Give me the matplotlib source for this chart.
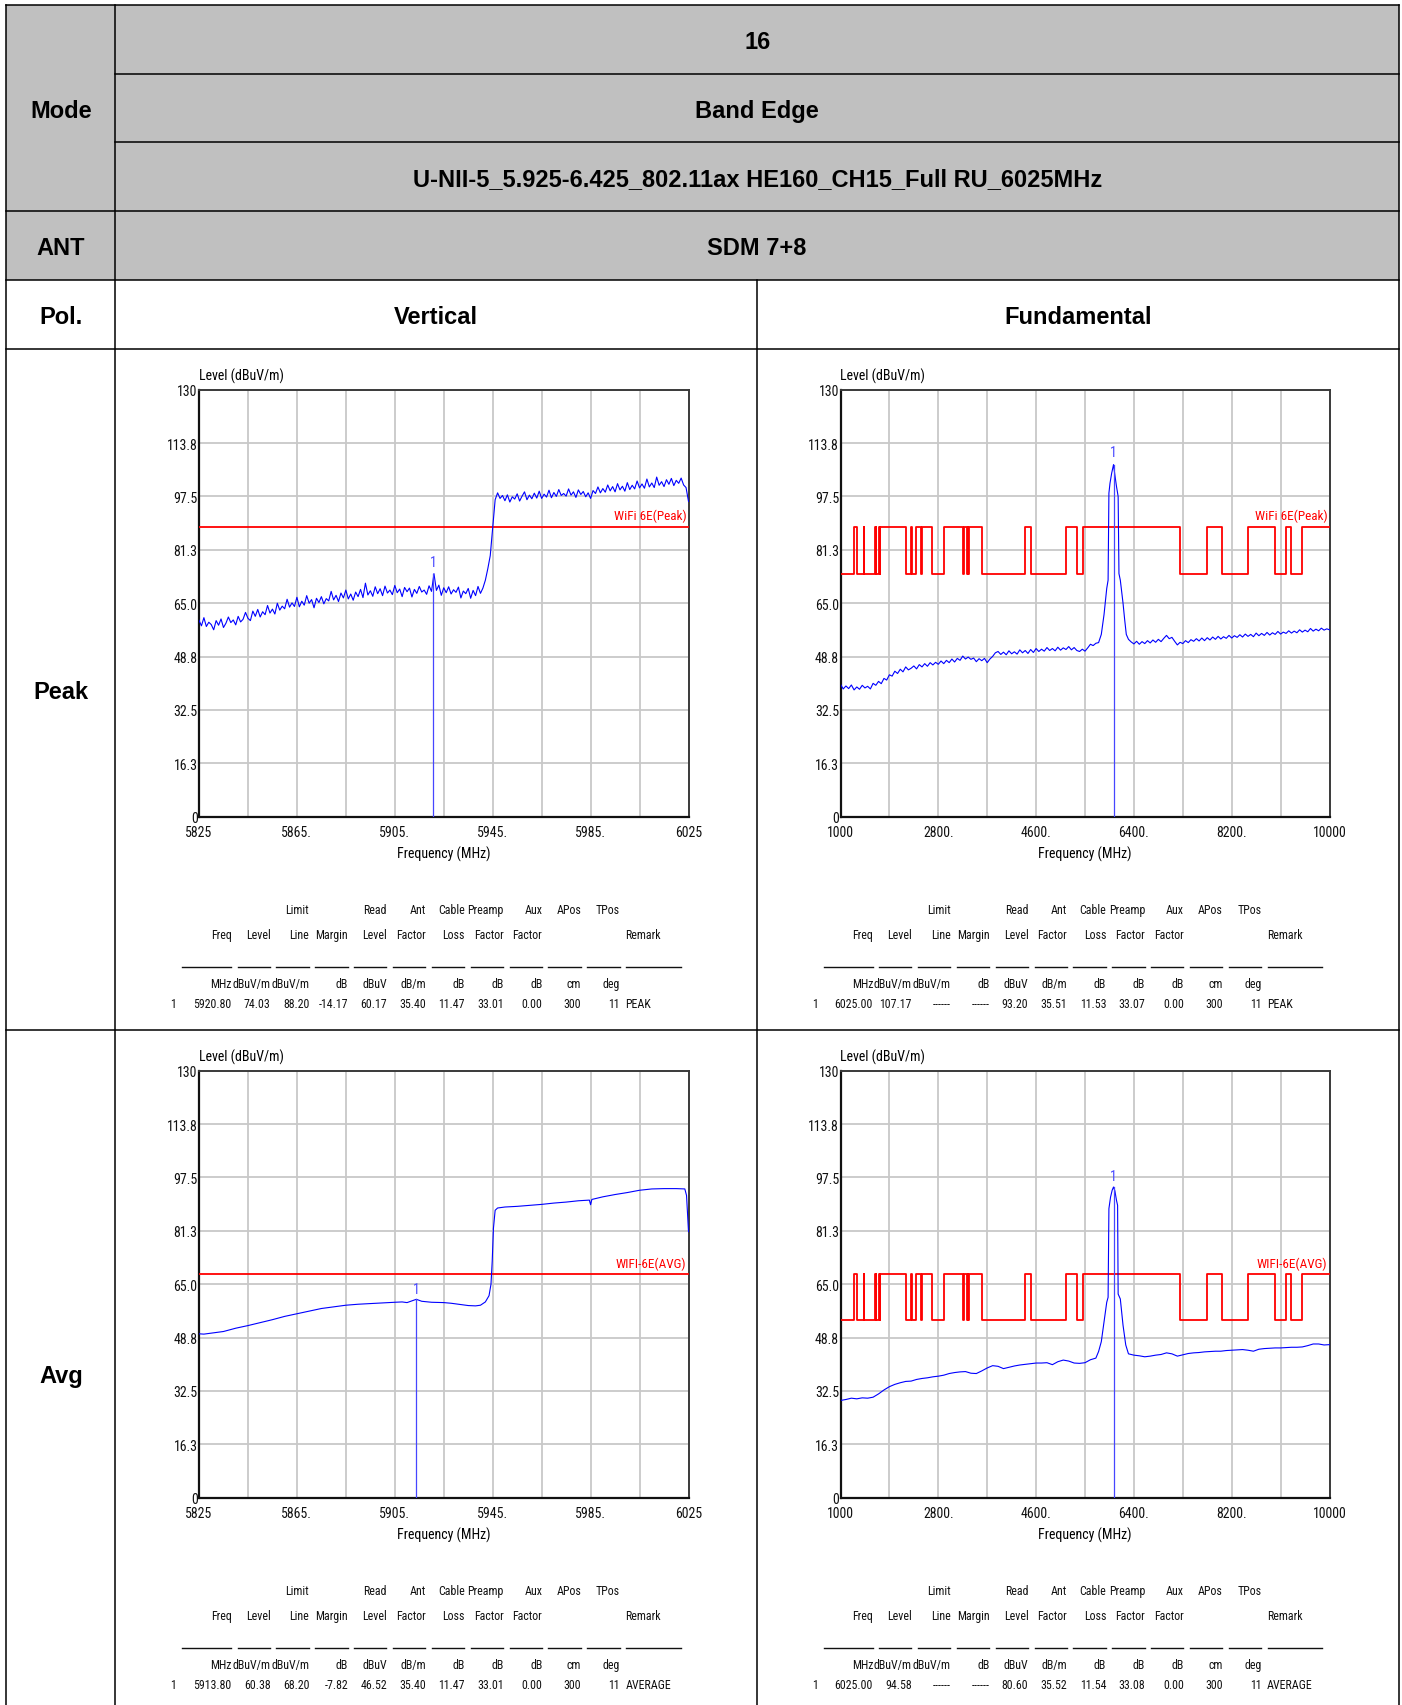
import matplotlib
matplotlib.use("Agg")
import matplotlib.pyplot as plt
from matplotlib import font_manager as fm
from matplotlib.patches import Rectangle
import matplotlib.transforms as mtrans

# ---------------- data ----------------
Y_TICKS = [0, 16.25, 32.5, 48.75, 65, 81.25, 97.5, 113.75, 130]
Y_LABELS = ["0", "16.3", "32.5", "48.8", "65.0", "81.3", "97.5", "113.8", "130"]

BE_GRID = [5825, 5845, 5865, 5885, 5905, 5925, 5945, 5965, 5985, 6005, 6025]
BE_LABELS = ["5825", "", "5865.", "", "5905.", "", "5945.", "", "5985.", "", "6025"]
FU_GRID = [1000, 1900, 2800, 3700, 4600, 5500, 6400, 7300, 8200, 9100, 10000]
FU_LABELS = ["1000", "", "2800.", "", "4600.", "", "6400.", "", "8200.", "", "10000"]

# Band edge, peak (vertical), 1 MHz steps 5825..6025
be_pk_freq = list(range(5825, 6026))
be_pk_level = [
    59.8, 58.1, 60.6, 57.9, 59.2, 58.5, 56.9, 59.7, 58.3, 60.2,
    57.6, 58.9, 60.8, 59.1, 59.9, 58.4, 61.0, 59.3, 60.1, 62.2,
    60.4, 59.7, 62.6, 61.0, 63.1, 60.8, 62.4, 61.5, 64.3, 62.0,
    63.2, 61.7, 65.0, 62.9, 64.1, 63.3, 66.2, 63.8, 65.1, 64.0,
    66.8, 63.9, 65.6, 64.4, 67.3, 65.0, 66.1, 63.6, 66.5, 65.2,
    67.0, 64.8, 66.4, 65.7, 68.6, 66.0, 67.4, 65.5, 68.1, 66.6,
    69.0, 66.3, 67.8, 65.9, 68.4, 67.0, 69.2, 66.7, 71.1, 67.5,
    68.8, 67.1, 70.0, 67.9, 69.4, 67.3, 70.2, 68.1, 69.0, 67.6,
    70.4, 68.2, 69.3, 67.0, 69.8, 68.5, 69.6, 66.9, 69.2, 68.0,
    70.1, 68.4, 69.0, 67.7, 70.3, 68.6, 74.0, 68.9, 70.5, 67.4,
    69.7, 68.2, 70.0, 67.8, 69.1, 68.3, 69.9, 66.6, 68.7, 67.9,
    69.5, 66.5, 68.9, 67.3, 70.1, 68.0, 69.6, 72.0, 75.5, 79.5,
    88.0, 96.5, 98.6, 96.9, 97.8, 96.2, 98.0, 95.8, 97.4, 96.7,
    98.3, 96.1, 97.6, 98.9, 96.5, 97.9, 96.8, 98.5, 97.0, 99.1,
    96.9, 98.2, 97.3, 99.4, 97.1, 98.7, 97.5, 99.6, 97.8, 98.4,
    97.6, 99.8, 97.9, 98.9, 97.2, 99.5, 98.1, 99.0, 97.4, 98.6,
    96.9, 99.3, 98.4, 100.4, 98.6, 99.9, 98.8, 101.0, 99.2, 100.5,
    98.9, 101.4, 99.5, 100.6, 99.1, 101.7, 99.6, 100.9, 99.8, 102.2,
    100.1, 101.3, 100.0, 102.8, 100.4, 101.6, 100.2, 103.4, 100.9, 102.0,
    100.5, 102.6, 101.2, 103.0, 100.8, 102.4, 101.5, 103.1, 101.0, 100.2,
    96.0]

# Band edge, average (vertical)
be_av_freq = [5825, 5827, 5830, 5835, 5840, 5845, 5850, 5855, 5860, 5865,
              5870, 5875, 5880, 5885, 5890, 5895, 5900, 5905, 5908, 5910,
              5913.8, 5916, 5920, 5925, 5928, 5930, 5932, 5935, 5938, 5940,
              5942, 5943.5, 5944.3, 5944.8, 5945.3, 5946, 5947, 5950, 5955, 5960,
              5965, 5970, 5975, 5980, 5984.5, 5985, 5985.5, 5990, 5995, 6000,
              6005, 6010, 6015, 6020, 6023.5, 6024.2, 6025]
be_av_level = [49.9, 49.8, 50.1, 50.6, 51.6, 52.4, 53.3, 54.2, 55.2, 56.0,
               56.8, 57.6, 58.1, 58.6, 58.9, 59.1, 59.3, 59.5, 59.6, 59.4,
               60.4, 59.8, 59.5, 59.4, 59.2, 59.0, 58.8, 58.5, 58.4, 58.6,
               59.6, 61.5, 65.0, 72.0, 82.0, 87.5, 88.2, 88.5, 88.7, 89.0,
               89.3, 89.7, 90.0, 90.4, 90.6, 89.2, 90.8, 91.6, 92.3, 92.9,
               93.6, 94.0, 94.1, 94.1, 94.0, 92.0, 81.0]

# Fundamental, peak
fu_pk_freq = ([1000 + 50 * i for i in range(95)] +
              [5750, 5800, 5850, 5900, 5925, 5940, 5960, 5990, 6025, 6050,
               6080, 6110, 6125, 6150, 6200, 6230, 6260] +
              [6300 + 50 * i for i in range(75)])
fu_pk_level = [
    40.3, 38.9, 39.8, 39.0, 40.1, 38.6, 39.5, 38.8, 40.0, 39.2,
    39.7, 38.9, 40.6, 40.0, 41.2, 40.5, 42.1, 41.6, 43.2, 42.8,
    44.3, 43.6, 44.9, 44.1, 45.6, 44.7, 45.2, 45.9, 45.0, 46.3,
    45.6, 46.6, 45.8, 46.9, 46.2, 47.0, 46.4, 47.4, 46.6, 47.6,
    46.9, 48.0, 47.1, 48.2, 47.6, 48.9, 48.0, 48.6, 47.9, 48.3,
    47.2, 48.1, 47.5, 48.2, 46.9, 48.0, 48.8, 49.9, 50.3, 49.4,
    50.1, 49.3, 50.5, 49.6, 50.2, 49.5, 50.8, 49.9, 50.6, 49.7,
    50.9, 50.0, 51.2, 50.3, 51.0, 50.4, 51.5, 50.6, 51.2, 50.5,
    51.6, 50.7, 51.4, 50.9, 51.8, 50.8, 51.5, 50.6, 50.3, 51.0,
    50.4, 51.4, 52.5, 52.1, 52.8,
    53.0, 55.5, 61.5, 69.5, 72.0, 98.5, 101.5, 104.5, 107.2, 104.0,
    100.5, 97.5, 74.0, 72.0, 65.0, 60.0, 55.5,
    54.0, 53.2, 52.6, 53.4, 52.5, 53.3, 52.7, 53.6, 52.9, 53.8,
    53.1, 54.0, 53.3, 54.3, 55.2, 54.2, 54.6, 53.4, 52.3, 53.1,
    52.7, 53.6, 53.0, 53.9, 53.4, 54.2, 53.5, 54.4, 53.6, 54.5,
    53.8, 54.7, 54.0, 54.9, 54.1, 54.8, 54.3, 55.2, 54.4, 55.1,
    54.6, 55.4, 54.7, 55.6, 54.9, 55.5, 54.8, 55.9, 55.1, 55.8,
    55.2, 56.1, 55.3, 56.0, 55.5, 56.4, 55.6, 56.2, 55.8, 56.6,
    55.9, 56.5, 56.0, 56.9, 56.2, 56.8, 56.3, 57.3, 56.5, 57.1,
    56.6, 57.4, 56.8, 57.2, 56.9]

# Fundamental, average
fu_av_freq = ([1000 + 100 * i for i in range(48)] +
              [5750, 5800, 5850, 5900, 5925, 5940, 5970, 6000, 6025, 6050,
               6080, 6100, 6110, 6150, 6200, 6250] +
              [6300 + 100 * i for i in range(38)])
fu_av_level = [
    29.6, 29.9, 30.3, 30.1, 30.4, 30.3, 30.6, 31.6, 32.8, 33.8,
    34.5, 35.0, 35.4, 35.5, 36.0, 36.3, 36.5, 36.8, 37.0, 37.3,
    37.8, 38.1, 38.3, 38.4, 37.9, 37.8, 38.6, 39.5, 40.2, 40.0,
    39.3, 39.7, 40.1, 40.4, 40.6, 40.8, 41.0, 41.0, 41.1, 40.5,
    41.4, 41.9, 41.6, 41.0, 40.9, 41.1, 42.0, 42.5,
    44.5, 47.5, 53.5, 59.5, 61.0, 88.0, 91.5, 93.6, 94.6, 93.4,
    90.5, 89.0, 62.0, 60.5, 52.5, 46.5,
    43.8, 43.4, 43.2, 42.9, 43.1, 43.4, 43.6, 44.1, 43.8, 43.1,
    43.5, 43.9, 44.1, 44.2, 44.4, 44.5, 44.6, 44.6, 44.8, 44.9,
    45.0, 45.1, 44.9, 44.6, 45.2, 45.4, 45.5, 45.6, 45.6, 45.7,
    45.8, 45.8, 45.9, 46.3, 46.8, 46.8, 46.5, 46.6]

# Restricted bands (limit drops to the lower value inside them)
RESTRICTED = [(960, 1240), (1300, 1427), (1435, 1626.5), (1645.5, 1646.5),
              (1660, 1710), (1718.8, 1722.2), (2200, 2300), (2310, 2390),
              (2483.5, 2500), (2690, 2900), (3260, 3267), (3332, 3339),
              (3345.8, 3358), (3600, 4400), (4500, 5150), (5350, 5460),
              (7250, 7750), (8025, 8500), (9000, 9200), (9300, 9500)]
PK_LIMIT_HI, PK_LIMIT_LO = 88.2, 74.0
AV_LIMIT_HI, AV_LIMIT_LO = 68.2, 54.0

MARKERS = {
    "tl": (5920.80, 74.03),
    "tr": (6025.00, 107.17),
    "bl": (5913.80, 60.38),
    "br": (6025.00, 94.58),
}

TABLE_HDR1 = [("Limit", 24), ("Read", 38), ("Ant", 45), ("Cable", 52),
              ("Preamp", 59), ("Aux", 66), ("APos", 73), ("TPos", 80)]
TABLE_HDR2 = [("Freq", 10), ("Level", 17), ("Line", 24), ("Margin", 31),
              ("Level", 38), ("Factor", 45), ("Loss", 52), ("Factor", 59),
              ("Factor", 66)]
TABLE_UNITS = ["MHz", "dBuV/m", "dBuV/m", "dB", "dBuV", "dB/m", "dB", "dB",
               "dB", "cm", "deg"]
ROW_TL = ["5920.80", "74.03", "88.20", "-14.17", "60.17", "35.40", "11.47",
          "33.01", "0.00", "300", "11", "PEAK"]
ROW_TR = ["6025.00", "107.17", "------", "------", "93.20", "35.51", "11.53",
          "33.07", "0.00", "300", "11", "PEAK"]
ROW_BL = ["5913.80", "60.38", "68.20", "-7.82", "46.52", "35.40", "11.47",
          "33.01", "0.00", "300", "11", "AVERAGE"]
ROW_BR = ["6025.00", "94.58", "------", "------", "80.60", "35.52", "11.54",
          "33.08", "0.00", "300", "11", "AVERAGE"]

# ---------------- fonts ----------------
available = {f.name for f in fm.fontManager.ttflist}
NARROW = None
for cand in ["Liberation Sans Narrow", "Arial Narrow", "Roboto Condensed",
             "Open Sans Condensed", "DejaVu Sans Condensed"]:
    if cand in available:
        NARROW = cand
        break
if NARROW is None:
    NARROW = "DejaVu Sans"
NARROW_SCALE = 1.0 if NARROW != "DejaVu Sans" else 0.8
HEAD = "Liberation Sans" if "Liberation Sans" in available else "DejaVu Sans"

# ---------------- figure ----------------
W, H = 1402, 1706
fig = plt.figure(figsize=(W / 100, H / 100), dpi=100)
bg = fig.add_axes([0, 0, 1, 1])
bg.set_xlim(0, W)
bg.set_ylim(H, 0)
bg.axis("off")

GRAY = "#C0C0C0"
L, C1, MID, R = 6.3, 115.3, 757.3, 1399.0
R1, R2, R3, R4, R5, R6, R7 = 6.3, 75.3, 143.3, 212.0, 281.0, 350.0, 1031.0
LW = 1.1

bg.add_patch(Rectangle((L, R1), R - L, R5 - R1, facecolor=GRAY,
                       edgecolor="none", zorder=0))
for y, xa, xb in [(R1, L, R), (R2, C1, R), (R3, C1, R), (R4, L, R),
                  (R5, L, R), (R6, L, R), (R7, L, R)]:
    bg.plot([xa, xb], [y, y], color="black", lw=LW, solid_capstyle="projecting")
for x, ya in [(L, R1), (R, R1), (C1, R1), (MID, R5)]:
    bg.plot([x, x], [ya, H + 5], color="black", lw=LW)

hk = dict(family=HEAD, fontweight="bold", fontsize=17, ha="center", va="center")
cx_all = (C1 + R) / 2
DY = 2.0
bg.text((L + C1) / 2, (R1 + R4) / 2 + DY, "Mode", **hk)
bg.text(cx_all, (R1 + R2) / 2 + DY, "16", **hk)
bg.text(cx_all, (R2 + R3) / 2 + DY, "Band Edge", **hk)
bg.text(cx_all, (R3 + R4) / 2 + DY,
        "U-NII-5_5.925-6.425_802.11ax HE160_CH15_Full RU_6025MHz", **hk)
bg.text((L + C1) / 2, (R4 + R5) / 2 + DY, "ANT", **hk)
bg.text(cx_all, (R4 + R5) / 2 + DY, "SDM 7+8", **hk)
bg.text((L + C1) / 2, (R5 + R6) / 2 + DY, "Pol.", **hk)
bg.text((C1 + MID) / 2, (R5 + R6) / 2 + DY, "Vertical", **hk)
bg.text((MID + R) / 2, (R5 + R6) / 2 + DY, "Fundamental", **hk)
bg.text((L + C1) / 2, (R6 + R7) / 2 + DY, "Peak", **hk)
bg.text((L + C1) / 2, (R7 + 1717) / 2 + DY, "Avg", **hk)


def limit_steps(hi, lo, f0, f1):
    xs, ys = [f0], []
    cur = lo if any(a <= f0 < b for a, b in RESTRICTED) else hi
    ys.append(cur)
    for a, b in RESTRICTED:
        for edge, val in ((a, lo), (b, hi)):
            if f0 < edge < f1:
                xs += [edge, edge]
                ys += [cur, val]
                cur = val
    xs.append(f1)
    ys.append(cur)
    return xs, ys


def chart(x0, y0, x1, y1, grid, labels, freq, level, lim_x, lim_y,
          lim_label, lim_label_y, mk, mk_label_y, row):
    ax = fig.add_axes([x0 / W, 1 - y1 / H, (x1 - x0) / W, (y1 - y0) / H])
    ax.set_xlim(grid[0], grid[-1])
    ax.set_ylim(0, 130)
    ax.set_xticks(grid)
    ax.set_xticklabels(labels)
    ax.set_yticks(Y_TICKS)
    ax.set_yticklabels(Y_LABELS)
    ax.grid(True, color="#C8C8C8", lw=1.3)
    ax.set_axisbelow(True)
    ax.tick_params(length=0, labelsize=10 * NARROW_SCALE, labelcolor="#111111")
    ax.tick_params(axis="y", pad=1)
    ax.tick_params(axis="x", pad=6)
    for t in ax.get_xticklabels() + ax.get_yticklabels():
        t.set_fontfamily(NARROW)
    for s in ("left", "bottom"):
        ax.spines[s].set_linewidth(1.6)
        ax.spines[s].set_color("#111111")
    for s in ("top", "right"):
        ax.spines[s].set_linewidth(1.4)
        ax.spines[s].set_color("#3a3a3a")
    ax.plot(lim_x, lim_y, color="#FF0000", lw=1.3, zorder=3)
    ax.plot(freq, level, color="#0000FF", lw=0.8, zorder=4)
    ax.plot([mk[0], mk[0]], [0, mk[1]], color="#4646FF", lw=0.9, zorder=5)
    ax.text(mk[0], mk_label_y, "1", color="#4A4AFF", ha="center",
            va="center", fontsize=10 * NARROW_SCALE, family=NARROW, zorder=6)
    tr = mtrans.blended_transform_factory(ax.transAxes, ax.transData)
    ax.text(0.996, lim_label_y, lim_label, transform=tr, color="#FF0000",
            ha="right", va="center", fontsize=9.5 * NARROW_SCALE,
            family=NARROW, zorder=6)
    # axis titles
    bg.text(x0, y0 - 14, "Level (dBuV/m)", ha="left", va="center",
            fontsize=10 * NARROW_SCALE, family=NARROW)
    bg.text((x0 + x1) / 2, y1 + 37, "Frequency (MHz)", ha="center",
            va="center", fontsize=10 * NARROW_SCALE, family=NARROW)
    # data table under the chart
    tx0 = x0 - 28.5
    cw = 5.55
    fs = 8.6 * NARROW_SCALE
    tk = dict(family=NARROW, fontsize=fs, va="center", color="#111111")

    def end_x(e):
        return tx0 + (e + 1) * cw

    ya, yb, yu, yc, yd = y1 + 92.6, y1 + 118, y1 + 150, y1 + 166.5, y1 + 187.0
    for txt, e in TABLE_HDR1:
        bg.text(end_x(e), ya, txt, ha="right", **tk)
    for txt, e in TABLE_HDR2:
        bg.text(end_x(e), yb, txt, ha="right", **tk)
    bg.text(tx0 + 82 * cw, yb, "Remark", ha="left", **tk)
    segs = [(2, 10)] + [(e - 5, e) for e in range(17, 81, 7)] + [(82, 91)]
    for a, b in segs:
        bg.plot([tx0 + a * cw + 0.5, tx0 + (b + 1) * cw - 0.5], [yu, yu],
                color="#111111", lw=1.0)
    unit_ends = [10] + list(range(17, 81, 7))
    for txt, e in zip(TABLE_UNITS, unit_ends):
        bg.text(end_x(e), yc, txt, ha="right", **tk)
    bg.text(tx0, yd, "1", ha="left", **tk)
    for txt, e in zip(row[:-1], unit_ends):
        bg.text(end_x(e), yd, txt, ha="right", **tk)
    bg.text(tx0 + 82 * cw, yd, row[-1], ha="left", **tk)
    return ax


TOP_Y0, TOP_Y1 = 390.7, 817.7
BOT_Y0, BOT_Y1 = 1071.7, 1498.7
LX0, LX1 = 199.0, 688.5
RX0, RX1 = 840.5, 1329.5

chart(LX0, TOP_Y0, LX1, TOP_Y1, BE_GRID, BE_LABELS, be_pk_freq, be_pk_level,
      [5825, 6025], [PK_LIMIT_HI, PK_LIMIT_HI], "WiFi 6E(Peak)", 91.9,
      MARKERS["tl"], 77.5, ROW_TL)
fx, fy = limit_steps(PK_LIMIT_HI, PK_LIMIT_LO, 1000, 10000)
chart(RX0, TOP_Y0, RX1, TOP_Y1, FU_GRID, FU_LABELS, fu_pk_freq, fu_pk_level,
      fx, fy, "WiFi 6E(Peak)", 91.9, MARKERS["tr"], 110.9, ROW_TR)
chart(LX0, BOT_Y0, LX1, BOT_Y1, BE_GRID, BE_LABELS, be_av_freq, be_av_level,
      [5825, 6025], [AV_LIMIT_HI, AV_LIMIT_HI], "WIFI-6E(AVG)", 71.4,
      MARKERS["bl"], 63.5, ROW_BL)
avx, avy = limit_steps(AV_LIMIT_HI, AV_LIMIT_LO, 1000, 10000)
chart(RX0, BOT_Y0, RX1, BOT_Y1, FU_GRID, FU_LABELS, fu_av_freq, fu_av_level,
      avx, avy, "WIFI-6E(AVG)", 71.4, MARKERS["br"], 98.0, ROW_BR)

fig.savefig("out.png", dpi=100, facecolor="white")
